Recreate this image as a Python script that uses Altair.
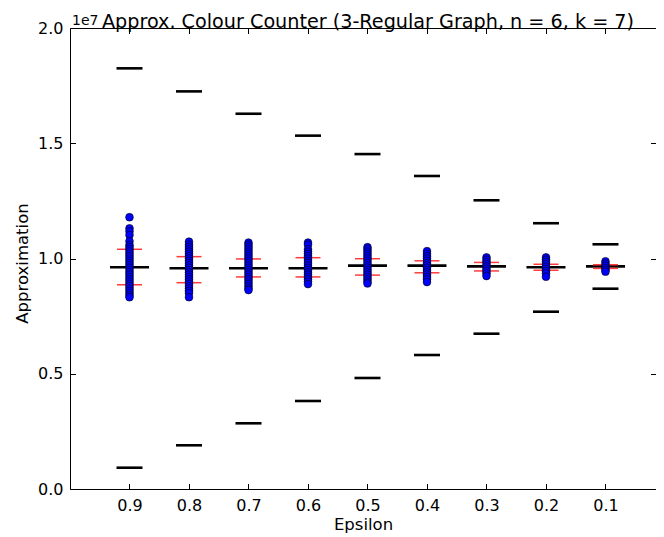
import altair as alt
import pandas as pd

SCALE = 1e7
epsilons = [0.9, 0.8, 0.7, 0.6, 0.5, 0.4, 0.3, 0.2, 0.1]
upper_bound = [1.825, 1.725, 1.628, 1.533, 1.453, 1.358, 1.2525, 1.153, 1.0616]
lower_bound = [0.0924, 0.1896, 0.285, 0.3818, 0.4816, 0.5813, 0.6738, 0.7692, 0.869]
mean_vals = [0.962, 0.958, 0.958, 0.958, 0.969, 0.969, 0.966, 0.962, 0.966]
std_upper = [1.040, 1.008, 0.998, 1.0035, 0.999, 0.990, 0.983, 0.975, 0.973]
std_lower = [0.886, 0.895, 0.920, 0.920, 0.928, 0.938, 0.946, 0.949, 0.957]
samples = {
    0.9: [1.179, 1.131, 1.118, 1.102, 1.075, 1.059, 1.05, 1.04, 1.03, 1.02, 1.01, 1.0, 0.99, 0.98,
          0.97, 0.96, 0.95, 0.94, 0.93, 0.92, 0.91, 0.90, 0.89, 0.88, 0.87, 0.86, 0.85, 0.84, 0.832],
    0.8: [1.073, 1.06, 1.05, 1.04, 1.03, 1.02, 1.01, 1.00, 0.99, 0.98, 0.97, 0.96, 0.95, 0.94,
          0.93, 0.92, 0.91, 0.90, 0.89, 0.88, 0.87, 0.86, 0.85, 0.832],
    0.7: [1.069, 1.06, 1.05, 1.04, 1.03, 1.02, 1.01, 1.00, 0.99, 0.98, 0.97, 0.96, 0.95, 0.94,
          0.93, 0.92, 0.91, 0.90, 0.89, 0.88, 0.87, 0.863],
    0.6: [1.069, 1.06, 1.04, 1.03, 1.02, 1.01, 1.00, 0.99, 0.98, 0.97, 0.96, 0.95, 0.94, 0.93,
          0.92, 0.91, 0.90, 0.889],
    0.5: [1.049, 1.04, 1.03, 1.02, 1.01, 1.00, 0.99, 0.98, 0.97, 0.96, 0.95, 0.94, 0.93, 0.92,
          0.91, 0.90, 0.892],
    0.4: [1.032, 1.02, 1.01, 1.00, 0.99, 0.98, 0.97, 0.96, 0.95, 0.94, 0.93, 0.92, 0.91, 0.898],
    0.3: [1.005, 0.995, 0.985, 0.975, 0.965, 0.955, 0.945, 0.935, 0.924],
    0.2: [1.005, 0.995, 0.985, 0.975, 0.965, 0.955, 0.945, 0.935, 0.921],
    0.1: [0.988, 0.978, 0.968, 0.958, 0.950, 0.943],
}
y_ticks = [0.0, 0.5, 1.0, 1.5, 2.0]

bounds_df = pd.DataFrame({
    "eps": epsilons + epsilons,
    "value": [v * SCALE for v in upper_bound + lower_bound],
})
mean_df = pd.DataFrame({"eps": epsilons, "value": [v * SCALE for v in mean_vals]})
std_df = pd.DataFrame({
    "eps": epsilons + epsilons,
    "value": [v * SCALE for v in std_upper + std_lower],
})
dots_df = pd.DataFrame(
    [{"eps": e, "value": v * SCALE} for e in epsilons for v in samples[e]]
)

FONT = "DejaVu Sans"
W, H = 586, 461

xscale = alt.Scale(domain=[0.0151, 1.0], reverse=True, nice=False, zero=False)
yscale = alt.Scale(domain=[0, 2.0 * SCALE], nice=False, zero=True)
xvals = epsilons
yvals = [v * SCALE for v in y_ticks]

common_tick = dict(tickColor="black", tickWidth=1, tickSize=5.5, grid=False, zindex=2)

bounds = alt.Chart(bounds_df).mark_tick(
    orient="horizontal", size=26, thickness=2.6, color="black", opacity=1
).encode(
    x=alt.X("eps:Q", scale=xscale, axis=alt.Axis(
        orient="bottom", values=xvals, format=".1f", ticks=False, domain=True,
        domainColor="black", domainWidth=1, labelFont=FONT, labelFontSize=16,
        labelColor="black", labelPadding=8, grid=False, title="Epsilon",
        titleFont=FONT, titleFontSize=16.5, titleFontWeight="normal", titleColor="black",
        titleBaseline="alphabetic", titleY=40, zindex=2)),
    y=alt.Y("value:Q", scale=yscale, axis=alt.Axis(
        orient="left", values=yvals, labelExpr="format(datum.value / 1e7, '.1f')",
        ticks=False, domain=True, domainColor="black", domainWidth=1,
        labelFont=FONT, labelFontSize=16, labelColor="black", labelPadding=7,
        grid=False, title="Approximation", titleFont=FONT, titleFontSize=16.5,
        titleFontWeight="normal", titleColor="black", titleBaseline="alphabetic",
        titleX=-43, titleY=235, zindex=2)),
)

mean = alt.Chart(mean_df).mark_tick(
    orient="horizontal", size=39, thickness=2.6, color="black", opacity=1
).encode(
    x=alt.X("eps:Q", scale=xscale, axis=alt.Axis(
        orient="top", offset=-H, values=xvals, labels=False, domain=False,
        title=None, **common_tick)),
    y=alt.Y("value:Q", scale=yscale, axis=alt.Axis(
        orient="right", offset=-W, values=yvals, labels=False, domain=False,
        title=None, **common_tick)),
)

std = alt.Chart(std_df).mark_tick(
    orient="horizontal", size=25, thickness=1.5, color="#ff3c3c", opacity=1
).encode(
    x=alt.X("eps:Q", scale=xscale, axis=alt.Axis(
        orient="bottom", offset=-H, values=xvals, labels=False, domain=True,
        domainColor="black", domainWidth=1, title=None, **common_tick)),
    y=alt.Y("value:Q", scale=yscale, axis=alt.Axis(
        orient="left", offset=-W, values=yvals, labels=False, domain=False,
        title=None, **common_tick)),
)

dots = alt.Chart(dots_df).mark_circle(
    size=60, color="#0000ff", opacity=1, stroke="black", strokeWidth=0.6
).encode(
    x=alt.X("eps:Q", scale=xscale, axis=None),
    y=alt.Y("value:Q", scale=yscale, axis=None),
)

offset_text = alt.Chart(pd.DataFrame({"t": ["1e7"]})).mark_text(
    align="left", baseline="alphabetic", font=FONT, fontSize=14, color="black"
).encode(x=alt.value(2), y=alt.value(-3), text="t:N")

chart = alt.layer(bounds, mean, std, dots, offset_text).resolve_axis(
    x="independent", y="independent"
).properties(
    width=W, height=H,
    title=alt.TitleParams(
        "Approx. Colour Counter (3-Regular Graph, n = 6, k = 7)",
        font=FONT, fontSize=19.2, fontWeight="normal", color="black",
        anchor="middle", offset=-18, dx=5),
    autosize=alt.AutoSizeParams(type="none"),
    padding={"left": 62, "top": 20, "right": 0, "bottom": 44},
    background="white",
).configure_view(stroke=None)

chart.save("out.html", embed_options={"renderer": "svg", "actions": False})
